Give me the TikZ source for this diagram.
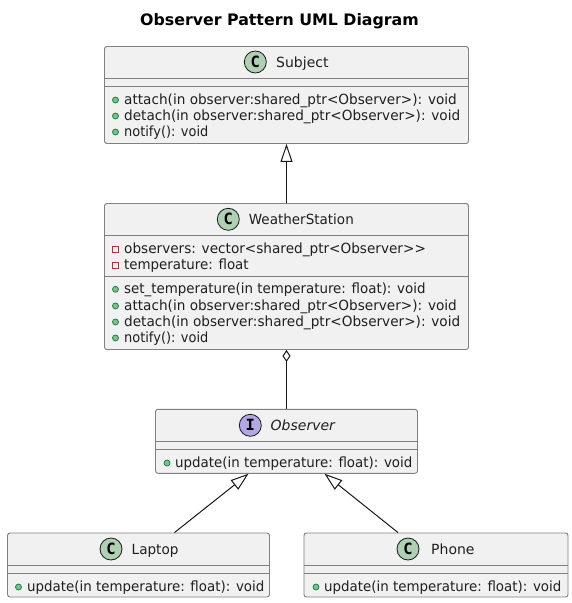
\documentclass[tikz,border=0pt]{standalone}
\usepackage{fontspec}
\setmainfont{DejaVu Sans}
\newfontfamily\spotfont{DejaVu Sans Mono}
\usetikzlibrary{arrows.meta}
\definecolor{umlline}{HTML}{181818}
\definecolor{umlbox}{HTML}{F1F1F1}
\definecolor{umlspot}{HTML}{ADD1B2}
\definecolor{umlspoti}{HTML}{B4A7E5}
\definecolor{pubfill}{HTML}{84BE84}
\definecolor{publine}{HTML}{038048}
\definecolor{privline}{HTML}{C82930}
\tikzset{
  classbox/.style={draw=umlline!55!white,fill=umlbox,rounded corners=2.5pt,line width=0.9pt,inner sep=0pt},
  divider/.style={draw=umlline!55!white,line width=0.9pt},
  label/.style={anchor=base west,inner sep=0pt,font=\fontsize{14}{16}\selectfont,text=black!88},
  classname/.style={label},
  member/.style={label,xscale=.957,transform shape},
  longmember/.style={label,xscale=.973,transform shape},
  shortmember/.style={label,xscale=.925,transform shape},
  spot/.style={circle,draw=umlline,line width=0.8pt,minimum size=22pt,inner sep=0pt,fill=umlspot,font=\spotfont\bfseries\fontsize{15.5}{15.5}\selectfont},
  pub/.style={circle,draw=publine,fill=pubfill,line width=0.7pt,minimum size=6pt,inner sep=0pt},
  priv/.style={rectangle,draw=privline,line width=0.8pt,minimum size=5.5pt,inner sep=0pt},
  link/.style={draw=umlline,line width=1pt},
  inherit/.style={link,{Triangle[open,length=18pt,width=12pt,fill=white]}-},
  aggr/.style={link,{Diamond[open,length=12pt,width=8pt,fill=white]}-},
}
\newcommand{\umlclass}[5]{\node[classbox,minimum width=#4pt,minimum height=#5pt] (#1) at (#2,#3) {};}
\begin{document}
\begin{tikzpicture}[x=1pt,y=-1pt]
\useasboundingbox (0,0) rectangle (572,603);
\fill[white] (0,0) rectangle (572,603);
\node[font=\bfseries\fontsize{15.8}{18}\selectfont,anchor=base,inner sep=0pt] (title) at (279.5,25) {Observer Pattern UML Diagram};

% Subject
\umlclass{subject}{286.5}{95}{364}{97}
\draw[divider] (subject.west |- 0,78.5) -- (subject.east |- 0,78.5);
\draw[divider] (subject.west |- 0,86.5) -- (subject.east |- 0,86.5);
\node[spot] (sspot) at (255.3,62) {C};
\node[classname] (sname) at (276,67) {Subject};
\node[pub] (s1d) at (115.5,100) {};
\node[pub] (s2d) at (115.5,116) {};
\node[pub] (s3d) at (115.5,132) {};
\node[longmember] (s1) at (124,104.3) {attach(in observer:shared\_ptr<Observer>): void};
\node[longmember] (s2) at (124,120.3) {detach(in observer:shared\_ptr<Observer>): void};
\node[shortmember] (s3) at (124,136.3) {notify(): void};

% WeatherStation
\umlclass{ws}{286.5}{276.5}{364}{146}
\draw[divider] (ws.west |- 0,235.5) -- (ws.east |- 0,235.5);
\draw[divider] (ws.west |- 0,276.5) -- (ws.east |- 0,276.5);
\node[spot] (wspot) at (228.3,219.3) {C};
\node[classname,xscale=.965,transform shape] (wname) at (248.7,224.3) {WeatherStation};
\node[priv] (w1d) at (115.5,249.3) {};
\node[priv] (w2d) at (115.5,265.3) {};
\node[pub] (w3d) at (115.5,289.3) {};
\node[pub] (w4d) at (115.5,306) {};
\node[pub] (w5d) at (115.5,322) {};
\node[pub] (w6d) at (115.5,338) {};
\node[longmember] (w1) at (124,253.3) {observers: vector<shared\_ptr<Observer>{}>};
\node[member] (w2) at (124,269.3) {temperature: float};
\node[member] (w3) at (124,293.3) {set\_temperature(in temperature: float): void};
\node[longmember] (w4) at (124,310) {attach(in observer:shared\_ptr<Observer>): void};
\node[longmember] (w5) at (124,326) {detach(in observer:shared\_ptr<Observer>): void};
\node[shortmember] (w6) at (124,342) {notify(): void};

% Observer
\umlclass{observer}{286.5}{441.3}{262}{64}
\draw[divider] (observer.west |- 0,441.5) -- (observer.east |- 0,441.5);
\draw[divider] (observer.west |- 0,449.5) -- (observer.east |- 0,449.5);
\node[spot,fill=umlspoti] (ospot) at (250.3,425.3) {I};
\node[classname,font=\itshape\fontsize{14}{16}\selectfont] (oname) at (270.5,430) {Observer};
\node[pub] (o1d) at (167,463) {};
\node[member] (o1) at (175,467) {update(in temperature: float): void};

% Laptop
\umlclass{laptop}{138.5}{565}{262}{64}
\draw[divider] (laptop.west |- 0,565) -- (laptop.east |- 0,565);
\draw[divider] (laptop.west |- 0,573) -- (laptop.east |- 0,573);
\node[spot] (lspot) at (111,549) {C};
\node[classname,xscale=.97,transform shape] (lname) at (131.5,554) {Laptop};
\node[pub] (l1d) at (18.5,587) {};
\node[member] (l1) at (27,591) {update(in temperature: float): void};

% Phone
\umlclass{phone}{436}{565}{264}{64}
\draw[divider] (phone.west |- 0,565) -- (phone.east |- 0,565);
\draw[divider] (phone.west |- 0,573) -- (phone.east |- 0,573);
\node[spot] (pspot) at (408,549) {C};
\node[classname] (pname) at (431,554) {Phone};
\node[pub] (p1d) at (316,587) {};
\node[member] (p1) at (324,591) {update(in temperature: float): void};

% Connectors
\draw[inherit] (subject.south) -- (ws.north);
\draw[aggr] (ws.south) -- (observer.north);
\draw[inherit] ([xshift=-38pt]observer.south) -- ([xshift=36pt]laptop.north);
\draw[inherit] ([xshift=38pt]observer.south) -- ([xshift=-38pt]phone.north);
\end{tikzpicture}
\end{document}
